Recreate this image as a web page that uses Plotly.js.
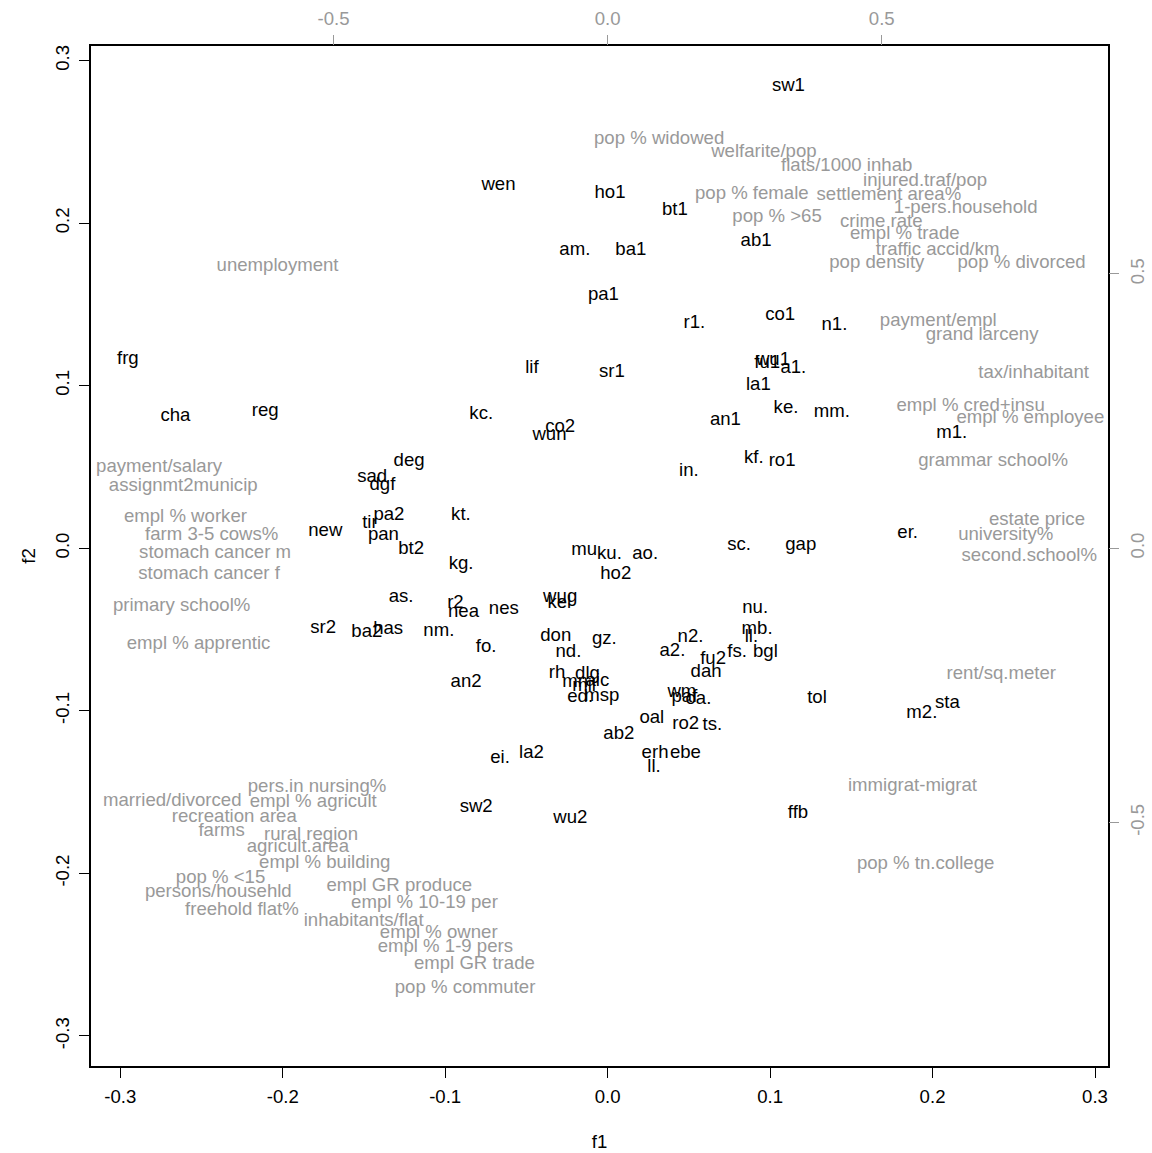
<!DOCTYPE html>
<html>
<head>
<meta charset="utf-8">
<script src="https://cdn.plot.ly/plotly-3.0.1.min.js"></script>
<style>html,body{margin:0;padding:0;background:#fff;}#chart{width:1152px;height:1153px;}</style>
</head>
<body>
<div id="chart"></div>
<script>
// Observation scores (f1, f2)
const obsLabels = ["sw1","wen","ho1","bt1","ab1","am.","ba1","pa1","r1.","co1","n1.","lif","sr1","wu1","fu1","a1.","la1","ke.","mm.","kc.","an1","co2","wun","kf.","ro1","in.","sc.","gap","mu","ku.","ao.","ho2","wug","kel","nes","nu.","mb.","ll.","don","gz.","n2.","fo.","nd.","a2.","fs.","bgl","fu2","dah","rh","dlg","mn","mil","aic","ed.","msp","wm","paf","oa.","tol","oal","ro2","ts.","ab2","erh","ebe","ll.","la2","ei.","sw2","wu2","ffb","m1.","er.","m2.","sta","deg","sad","dgf","kt.","pa2","tir","new","pan","bt2","kg.","as.","r2","nea","sr2","ba2","has","nm.","an2","frg","cha","reg"];
const obsF1 = [0.1113,-0.0672,0.0015,0.0414,0.0914,-0.0202,0.0143,-0.0026,0.0534,0.1062,0.1396,-0.0466,0.0026,0.1018,0.0982,0.1143,0.0928,0.1098,0.1380,-0.0778,0.0725,-0.0292,-0.0358,0.0900,0.1074,0.0500,0.0809,0.1189,-0.0145,0.0011,0.0231,0.0050,-0.0292,-0.0297,-0.0639,0.0908,0.0920,0.0885,-0.0319,-0.0020,0.0510,-0.0748,-0.0241,0.0399,0.0797,0.0971,0.0649,0.0606,-0.0311,-0.0124,-0.0200,-0.0145,-0.0063,-0.0169,-0.0036,0.0457,0.0473,0.0559,0.1289,0.0272,0.0481,0.0645,0.0069,0.0292,0.0479,0.0286,-0.0469,-0.0662,-0.0809,-0.0229,0.1172,0.2118,0.1847,0.1934,0.2091,-0.1222,-0.1449,-0.1386,-0.0903,-0.1346,-0.1463,-0.1738,-0.1380,-0.1209,-0.0902,-0.1271,-0.0937,-0.0887,-0.1751,-0.1482,-0.1351,-0.1039,-0.0871,-0.2953,-0.2660,-0.2108];
const obsF2 = [0.2839,0.2234,0.2183,0.2080,0.1889,0.1834,0.1834,0.1553,0.1383,0.1434,0.1372,0.1106,0.1081,0.1157,0.1138,0.1106,0.1003,0.0860,0.0839,0.0825,0.0788,0.0746,0.0695,0.0552,0.0537,0.0476,0.0018,0.0018,-0.0012,-0.0037,-0.0037,-0.0162,-0.0300,-0.0337,-0.0377,-0.0371,-0.0500,-0.0546,-0.0542,-0.0562,-0.0550,-0.0611,-0.0638,-0.0632,-0.0638,-0.0642,-0.0685,-0.0761,-0.0771,-0.0775,-0.0823,-0.0849,-0.0817,-0.0919,-0.0911,-0.0884,-0.0919,-0.0931,-0.0925,-0.1048,-0.1083,-0.1089,-0.1145,-0.1260,-0.1260,-0.1346,-0.1263,-0.1294,-0.1596,-0.1663,-0.1633,0.0706,0.0094,-0.1014,-0.0956,0.0537,0.0435,0.0388,0.0203,0.0203,0.0156,0.0105,0.0080,-0.0008,-0.0098,-0.0300,-0.0340,-0.0392,-0.0494,-0.0515,-0.0500,-0.0509,-0.0823,0.1161,0.0814,0.0843];

// Variable loadings (secondary axes)
const varLabels = ["unemployment","pop % widowed","welfarite/pop","flats/1000 inhab","pop % female","settlement area%","injured.traf/pop","pop % >65","1-pers.household","crime rate","empl % trade","traffic accid/km","pop density","pop % divorced","payment/empl","grand larceny","tax/inhabitant","empl % cred+insu","empl % employee","grammar school%","estate price","university%","second.school%","rent/sq.meter","payment/salary","assignmt2municip","empl % worker","farm 3-5 cows%","stomach cancer m","stomach cancer f","primary school%","empl % apprentic","pers.in nursing%","married/divorced","empl % agricult","recreation area","farms","rural region","agricult.area","empl % building","pop % <15","persons/househld","empl GR produce","empl % 10-19 per","freehold flat%","inhabitants/flat","empl % owner","empl % 1-9 pers","empl GR trade","pop % commuter","immigrat-migrat","pop % tn.college"];
const varX = [-0.602,0.094,0.285,0.436,0.263,0.513,0.579,0.309,0.653,0.499,0.542,0.602,0.491,0.755,0.603,0.683,0.777,0.662,0.771,0.703,0.783,0.726,0.769,0.718,-0.818,-0.774,-0.770,-0.722,-0.716,-0.727,-0.777,-0.746,-0.530,-0.794,-0.537,-0.681,-0.704,-0.541,-0.565,-0.516,-0.706,-0.710,-0.380,-0.334,-0.667,-0.445,-0.308,-0.296,-0.243,-0.260,0.556,0.580];
const varY = [0.514,0.746,0.722,0.696,0.645,0.643,0.668,0.604,0.620,0.595,0.572,0.543,0.520,0.520,0.414,0.388,0.318,0.259,0.236,0.159,0.050,0.024,-0.015,-0.230,0.147,0.113,0.056,0.024,-0.010,-0.047,-0.106,-0.175,-0.435,-0.462,-0.464,-0.491,-0.516,-0.523,-0.546,-0.575,-0.602,-0.628,-0.617,-0.647,-0.660,-0.680,-0.702,-0.728,-0.758,-0.803,-0.434,-0.576];

const primTicks = [-0.3,-0.2,-0.1,0.0,0.1,0.2,0.3];
const primTickText = ["-0.3","-0.2","-0.1","0.0","0.1","0.2","0.3"];
const secTicks = [-0.5,0.0,0.5];
const secTickText = ["-0.5","0.0","0.5"];

const FONT = "Liberation Sans, Arial, Helvetica, sans-serif";
const GRAY = "#999999";
const FS = 18.6;

const traces = [
  {
    type: "scatter", mode: "text",
    x: obsF1, y: obsF2, text: obsLabels,
    textposition: "middle center",
    textfont: {family: FONT, size: FS, color: "#000000"},
    xaxis: "x", yaxis: "y", cliponaxis: false, hoverinfo: "skip"
  },
  {
    type: "scatter", mode: "text",
    x: varX, y: varY, text: varLabels,
    textposition: "middle center",
    textfont: {family: FONT, size: FS, color: GRAY},
    xaxis: "x2", yaxis: "y2", cliponaxis: false, hoverinfo: "skip"
  }
];

const layout = {
  width: 1152, height: 1153,
  margin: {l: 91, r: 44, t: 46, b: 87, pad: 0},
  paper_bgcolor: "#ffffff", plot_bgcolor: "#ffffff",
  showlegend: false, hovermode: false,
  font: {family: FONT, size: FS, color: "#000000"},
  xaxis: {
    range: [-0.318, 0.308], tickvals: primTicks, ticktext: primTickText,
    ticks: "outside", ticklen: 10, tickwidth: 1, tickcolor: "#000", ticklabelstandoff: 3,
    showline: true, linecolor: "#000", linewidth: 2, mirror: true,
    showgrid: false, zeroline: false, automargin: false,
    tickfont: {family: FONT, size: FS, color: "#000"},
    title: {text: "f1", font: {family: FONT, size: FS, color: "#000"}, standoff: 29}
  },
  yaxis: {
    range: [-0.3185, 0.309], tickvals: primTicks, ticktext: primTickText,
    ticks: "outside", ticklen: 10, tickwidth: 1, tickcolor: "#000", tickangle: -90, ticklabelstandoff: 3,
    showline: true, linecolor: "#000", linewidth: 2, mirror: true,
    showgrid: false, zeroline: false, automargin: false,
    tickfont: {family: FONT, size: FS, color: "#000"},
    title: {text: "f2", font: {family: FONT, size: FS, color: "#000"}, standoff: 11}
  },
  xaxis2: {
    overlaying: "x", side: "top", anchor: "y",
    range: [-0.318 * 2.963, 0.308 * 2.963], tickvals: secTicks, ticktext: secTickText,
    ticks: "outside", ticklen: 10, tickwidth: 1, tickcolor: GRAY, ticklabelstandoff: 3,
    showline: false, showgrid: false, zeroline: false, automargin: false,
    tickfont: {family: FONT, size: FS, color: GRAY}
  },
  yaxis2: {
    overlaying: "y", side: "right", anchor: "x",
    range: [-0.3185 * 2.963, 0.309 * 2.963], tickvals: secTicks, ticktext: secTickText,
    ticks: "outside", ticklen: 10, tickwidth: 1, tickcolor: GRAY, tickangle: -90, ticklabelstandoff: 3,
    showline: false, showgrid: false, zeroline: false, automargin: false,
    tickfont: {family: FONT, size: FS, color: GRAY}
  }
};

Plotly.newPlot("chart", traces, layout, {staticPlot: true, displayModeBar: false});
</script>
</body>
</html>
